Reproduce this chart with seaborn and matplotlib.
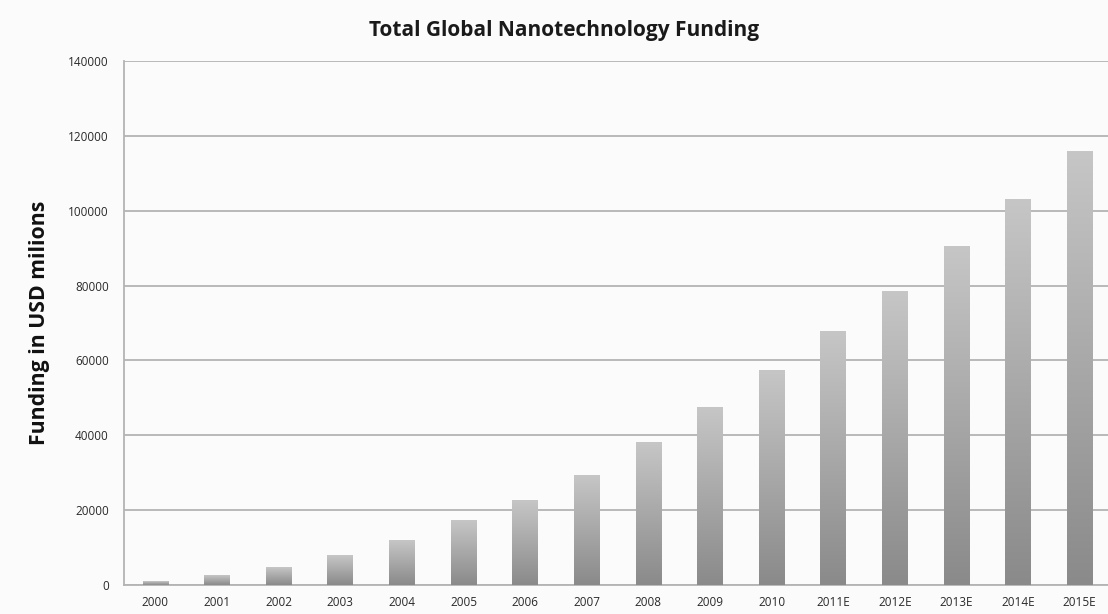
import numpy as np
import pandas as pd
import matplotlib
matplotlib.use("Agg")
import matplotlib.pyplot as plt
from matplotlib.colors import LinearSegmentedColormap
import seaborn as sns

# Funding data (USD millions); "E" marks estimated years
years = ["2000", "2001", "2002", "2003", "2004", "2005", "2006", "2007",
         "2008", "2009", "2010", "2011E", "2012E", "2013E", "2014E", "2015E"]
funding = [1000, 2600, 4800, 7800, 12000, 17100, 22600, 29200,
           38100, 47300, 57200, 67600, 78400, 90400, 103100, 115800]
y_ticks = [0, 20000, 40000, 60000, 80000, 100000, 120000, 140000]

df = pd.DataFrame({"year": years, "funding": funding})

sns.set_theme(style="white")
plt.rcParams["font.family"] = ["Open Sans", "DejaVu Sans"]

bg = "#fbfbfb"
grid_c = "#b4b4b4"

fig = plt.figure(figsize=(11.08, 6.14), dpi=100, facecolor=bg)
ax = fig.add_axes([0.1119, 0.0472, 0.8881, 0.8535], facecolor=bg)

sns.barplot(data=df, x="year", y="funding", color="#aaaaaa",
            width=0.415, ax=ax, zorder=3)

# Vertical light-to-dark gradient fill inside each bar
grad_cmap = LinearSegmentedColormap.from_list("barfade", ["#8a8a8a", "#c6c6c6"])
gradient = np.linspace(0, 1, 256).reshape(-1, 1)
for patch in ax.patches:
    x0, y0 = patch.get_x(), patch.get_y()
    w, h = patch.get_width(), patch.get_height()
    ax.imshow(gradient, extent=[x0, x0 + w, y0, y0 + h], origin="lower",
              aspect="auto", cmap=grad_cmap, zorder=3, interpolation="bilinear")
    patch.set_facecolor("none")
    patch.set_edgecolor("none")

ax.set_xlim(-0.51, 15.46)
ax.set_ylim(0, 140000)
ax.set_yticks(y_ticks)
ax.set_yticklabels([str(t) for t in y_ticks])

ax.yaxis.grid(True, color=grid_c, linewidth=1.3)
ax.xaxis.grid(False)
ax.set_axisbelow(True)

for side in ["top", "right"]:
    ax.spines[side].set_visible(False)
for side in ["left", "bottom"]:
    ax.spines[side].set_color(grid_c)
    ax.spines[side].set_linewidth(1.3)

ax.tick_params(axis="both", length=0, labelsize=8.5, labelcolor="#2a2a2a")
ax.tick_params(axis="y", pad=11)
ax.tick_params(axis="x", pad=8)

ax.set_xlabel("")
ax.set_ylabel("Funding in USD milions", fontsize=15.3, fontweight="bold",
              color="#111111", labelpad=13)

fig.text(0.509, 0.951, "Total Global Nanotechnology Funding", ha="center",
         va="center", fontsize=15, fontweight="bold", color="#1a1a1a")

fig.savefig("out.png", dpi=100, facecolor=bg)
